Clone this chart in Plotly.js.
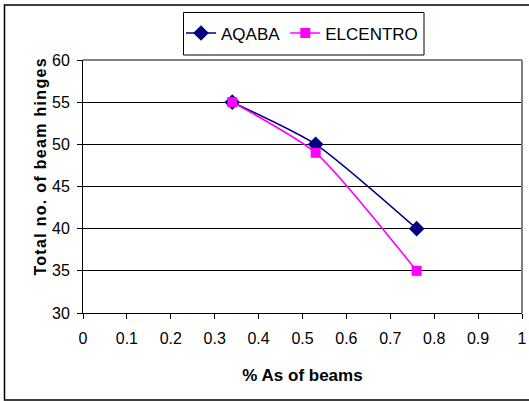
<!DOCTYPE html>
<html>
<head>
<meta charset="utf-8">
<script src="https://cdn.plot.ly/plotly-3.0.1.min.js"></script>
<style>
  html, body { margin: 0; padding: 0; background: #fff; }
  #chart { width: 529px; height: 401px; }
  .ytitle-note { letter-spacing: 1.3px; }
</style>
</head>
<body>
<div id="chart"></div>
<script>
// Steel ratio of beams (%As) and the total number of beam hinges formed
const asRatio = [0.34, 0.53, 0.76];
const aqabaHinges = [55, 50, 40];
const elcentroHinges = [55, 49, 35];

const xTicks = [0, 0.1, 0.2, 0.3, 0.4, 0.5, 0.6, 0.7, 0.8, 0.9, 1];
const yTicks = [30, 35, 40, 45, 50, 55, 60];

const narrow = 'Liberation Sans Narrow, Arial Narrow, Liberation Sans, Arial, sans-serif';
const bold = 'Liberation Sans, Arial, sans-serif';

// plot area in pixels: left 83, right 522, top 60, bottom 313
const L = 83, R = 522, T = 60, B = 313;
const W = R - L, H = B - T;
const px = x => (x - L) / W;
const py = y => (B - y) / H;

const traces = [
  {
    x: asRatio, y: aqabaHinges, name: 'AQABA', type: 'scatter', mode: 'lines+markers',
    line: { color: '#000080', width: 1.6, shape: 'spline', smoothing: 0.6 },
    marker: { symbol: 'diamond', size: 12, color: '#000080' }
  },
  {
    x: asRatio, y: elcentroHinges, name: 'ELCENTRO', type: 'scatter', mode: 'lines+markers',
    line: { color: '#FF00FF', width: 1.6, shape: 'spline', smoothing: 0.6 },
    marker: { symbol: 'square', size: 10, color: '#FF00FF' }
  }
];

const layout = {
  width: 529, height: 401,
  margin: { l: L, r: 529 - R, t: T, b: 401 - B },
  paper_bgcolor: '#fff', plot_bgcolor: '#fff',
  showlegend: true,
  legend: {
    orientation: 'h', x: px(181), xanchor: 'left', y: py(33.5), yanchor: 'middle',
    borderwidth: 0, bgcolor: 'rgba(0,0,0,0)',
    font: { family: narrow, size: 17, color: '#000' },
    itemwidth: 30, tracegroupgap: 0
  },
  xaxis: {
    range: [0, 1], tickvals: xTicks, ticktext: xTicks.map(String),
    showgrid: false, zeroline: false,
    showline: true, linecolor: '#000', linewidth: 1,
    ticks: 'outside', ticklen: 5, tickcolor: '#000',
    ticklabelstandoff: 6,
    tickfont: { family: narrow, size: 16, color: '#000' },
    title: { text: '% As of beams', font: { family: bold, size: 17, weight: 'bold', color: '#000' }, standoff: 22 },
    fixedrange: true
  },
  yaxis: {
    range: [30, 60], tickvals: yTicks, ticktext: yTicks.map(String),
    showgrid: true, gridcolor: '#000', gridwidth: 1, zeroline: false,
    showline: true, linecolor: '#000', linewidth: 1,
    ticks: 'outside', ticklen: 5, tickcolor: '#000',
    ticklabelstandoff: 4,
    tickfont: { family: narrow, size: 16, color: '#000' },
    fixedrange: true
  },
  annotations: [
    {
      text: 'Total no. of beam hinges', textangle: -90,
      xref: 'paper', yref: 'paper', x: px(40), y: py(167),
      xanchor: 'center', yanchor: 'middle', showarrow: false,
      font: { family: bold, size: 16, weight: 'bold', color: '#000' }
    }
  ],
  shapes: [
    // chart frame
    { type: 'rect', xref: 'paper', yref: 'paper', x0: px(4.5), x1: px(531), y0: py(400), y1: py(5),
      line: { color: '#000', width: 1.5 }, layer: 'below' },
    // legend frame
    { type: 'rect', xref: 'paper', yref: 'paper', x0: px(183.5), x1: px(424), y0: py(55), y1: py(12.5),
      line: { color: '#000', width: 1 }, fillcolor: '#fff', layer: 'below' },
    // plot area top and right border
    { type: 'line', xref: 'paper', yref: 'paper', x0: 0, x1: 1, y0: 1, y1: 1,
      line: { color: '#808080', width: 2 }, layer: 'above' },
    { type: 'line', xref: 'paper', yref: 'paper', x0: 1, x1: 1, y0: 0, y1: 1,
      line: { color: '#808080', width: 2 }, layer: 'above' }
  ]
};

Plotly.newPlot('chart', traces, layout, { displayModeBar: false, staticPlot: true }).then(() => {
  document.querySelectorAll('.annotation-text').forEach(t => t.classList.add('ytitle-note'));
});
</script>
</body>
</html>
